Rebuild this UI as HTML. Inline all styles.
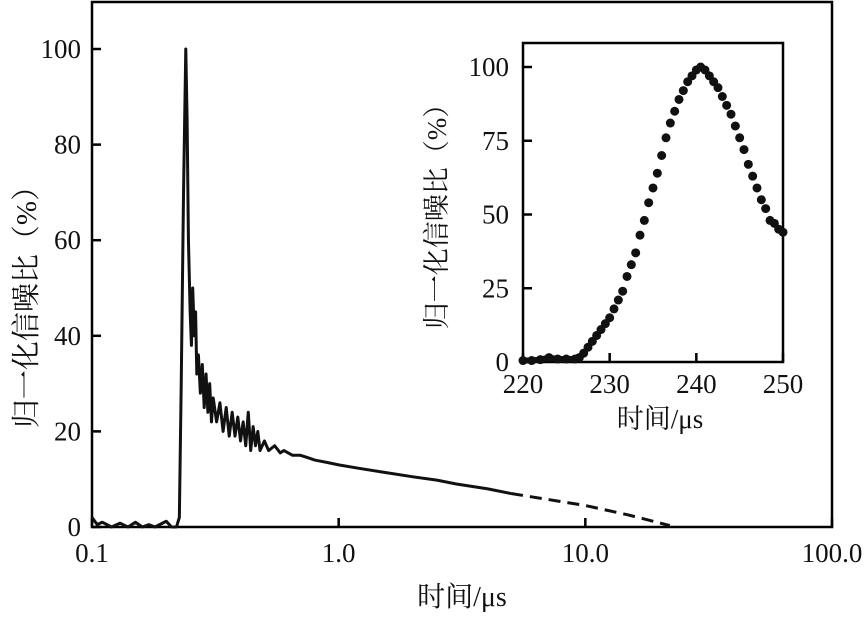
<!DOCTYPE html>
<html><head><meta charset="utf-8"><style>
body{margin:0;background:#fff;}
svg text{font-family:"Liberation Serif","Noto Serif CJK SC",serif;fill:#111;}
</style></head><body>
<svg id="chart" width="868" height="612" viewBox="0 0 868 612">
<g id="main"></g>
<g id="inset"></g>
</svg>
<script>
// main chart data
const mainX = [0.1,0.105,0.11,0.12,0.13,0.14,0.15,0.16,0.17,0.18,0.2,0.21,0.22,0.226,0.23,0.235,0.24,0.243,0.246,0.25,0.253,0.256,0.26,0.263,0.266,0.27,0.275,0.28,0.285,0.29,0.295,0.30,0.305,0.31,0.32,0.33,0.34,0.35,0.36,0.37,0.38,0.39,0.40,0.41,0.42,0.43,0.44,0.45,0.46,0.47,0.48,0.5,0.52,0.55,0.58,0.6,0.65,0.7,0.75,0.8,0.9,1.0,1.2,1.5,2,2.5,3,4,5];
const mainY = [2,0.5,1,0,0.8,0,1,0,0.5,0,1.2,0,0,2,30,70,100,85,60,45,38,50,40,45,32,36,28,34,25,32,24,30,22,27,22,26,20,25,19,24,19,23,18,22,17,24,16,21,17,20,16,18,16,17,15.5,16,15,15,14.5,14,13.5,13,12.3,11.5,10.5,9.8,9,8,7];
const dashX = [5,10,15,22];
const dashY = [7,4.5,2.5,0.3];
const mainYTicks = [0,20,40,60,80,100];
const mainXTicks = [0.1,1,10,100];
const mainXLabels = ["0.1","1.0","10.0","100.0"];
// inset data
const insetX = [220,221,222,223,224,225,226,226.5,227,227.5,228,228.5,229,229.5,230,230.5,231,231.5,232,232.5,233,233.5,234,234.5,235,235.5,236,236.5,237,237.5,238,238.5,239,239.5,240,240.5,241,241.5,242,242.5,243,243.5,244,244.5,245,245.5,246,246.5,247,247.5,248,248.5,249,249.5,250];
const insetY = [0.5,0.5,0.8,1.5,1,1,1,1.5,3,5,7,9,11,13,15,18,21,24,29,33,37,43,48,54,59,64,70,76,81,85,89,92,95,97,99,100,99,97,95,93,90,87,84,80,76,72,67,63,59,55,52,48,47,45,44];
const insetYTicks = [0,25,50,75,100];
const insetXTicks = [220,230,240,250];

const NS="http://www.w3.org/2000/svg";
function mk(parent,tag,attrs){const e=document.createElementNS(NS,tag);for(const k in attrs)e.setAttribute(k,attrs[k]);parent.appendChild(e);return e;}
const main=document.getElementById('main');
const L=92,R=832,T=2,B=527;
const mx=v=>L+(Math.log10(v)+1)*(R-L)/3;
const my=v=>B-v*(B-49)/100;
let e;
e=mk(main,'rect',{x:L,y:T,width:R-L,height:B-T,fill:'none',stroke:'#000','stroke-width':2.5});


mainYTicks.forEach(t=>{
  e=mk(main,'line',{x1:L,x2:L+9,y1:my(t),y2:my(t),stroke:'#000','stroke-width':2.5});
  
  
  e=mk(main,'text',{x:L-11,y:my(t)+9,'text-anchor':'end','font-size':27});
  e.textContent=t;
  
  
});
mainXTicks.forEach((t,i)=>{
  e=mk(main,'line',{x1:mx(t),x2:mx(t),y1:B,y2:B-9,stroke:'#000','stroke-width':2.5});
  
  
  e=mk(main,'text',{x:mx(t),y:B+35,'text-anchor':'middle','font-size':27});
  e.textContent=mainXLabels[i];
  
  
});
e=mk(main,'polyline',{points:mainX.map((x,i)=>mx(x)+','+my(mainY[i])).join(' '),fill:'none',stroke:'#111','stroke-width':3,'stroke-linejoin':'round'});


e=mk(main,'polyline',{points:dashX.map((x,i)=>mx(x)+','+my(dashY[i])).join(' '),fill:'none',stroke:'#111','stroke-width':3,'stroke-dasharray':'12,7'});


e=mk(main,'text',{x:462,y:606,'text-anchor':'middle','font-size':28});
e.textContent='时间/μs';


e=mk(main,'text',{x:0,y:0,'text-anchor':'middle','font-size':29,transform:'translate(36,300) rotate(-90)'});
e.textContent='归一化信噪比（%）';



// inset
const ins=document.getElementById('inset');
const iL=523,iR=783,iT=43,iB=362;
const ix=v=>iL+(v-220)*(iR-iL)/30;
const iy=v=>iB-v*(iB-67)/100;
e=mk(ins,'rect',{x:iL,y:iT,width:iR-iL,height:iB-iT,fill:'#fff',stroke:'#000','stroke-width':2.5});


insetYTicks.forEach(t=>{
  e=mk(ins,'line',{x1:iL,x2:iL+9,y1:iy(t),y2:iy(t),stroke:'#000','stroke-width':2.5});
  
  
  e=mk(ins,'text',{x:iL-14,y:iy(t)+9,'text-anchor':'end','font-size':27});
  e.textContent=t;
  
  
});
insetXTicks.forEach(t=>{
  e=mk(ins,'line',{x1:ix(t),x2:ix(t),y1:iB,y2:iB-9,stroke:'#000','stroke-width':2.5});
  
  
  e=mk(ins,'text',{x:ix(t),y:iB+31,'text-anchor':'middle','font-size':27});
  e.textContent=t;
  
  
});
insetX.forEach((x,i)=>{
  e=mk(ins,'circle',{cx:ix(x),cy:iy(insetY[i]),r:4.5,fill:'#111'});
  
  
});
e=mk(ins,'polyline',{points:insetX.filter(x=>x<=227).map((x,i)=>ix(x)+','+iy(insetY[i])).join(' '),fill:'none',stroke:'#111','stroke-width':6});


e=mk(ins,'text',{x:660,y:428,'text-anchor':'middle','font-size':27});
e.textContent='时间/μs';


e=mk(ins,'text',{x:0,y:0,'text-anchor':'middle','font-size':27,transform:'translate(446,210) rotate(-90)'});
e.textContent='归一化信噪比（%）';


</script>
</body></html>
